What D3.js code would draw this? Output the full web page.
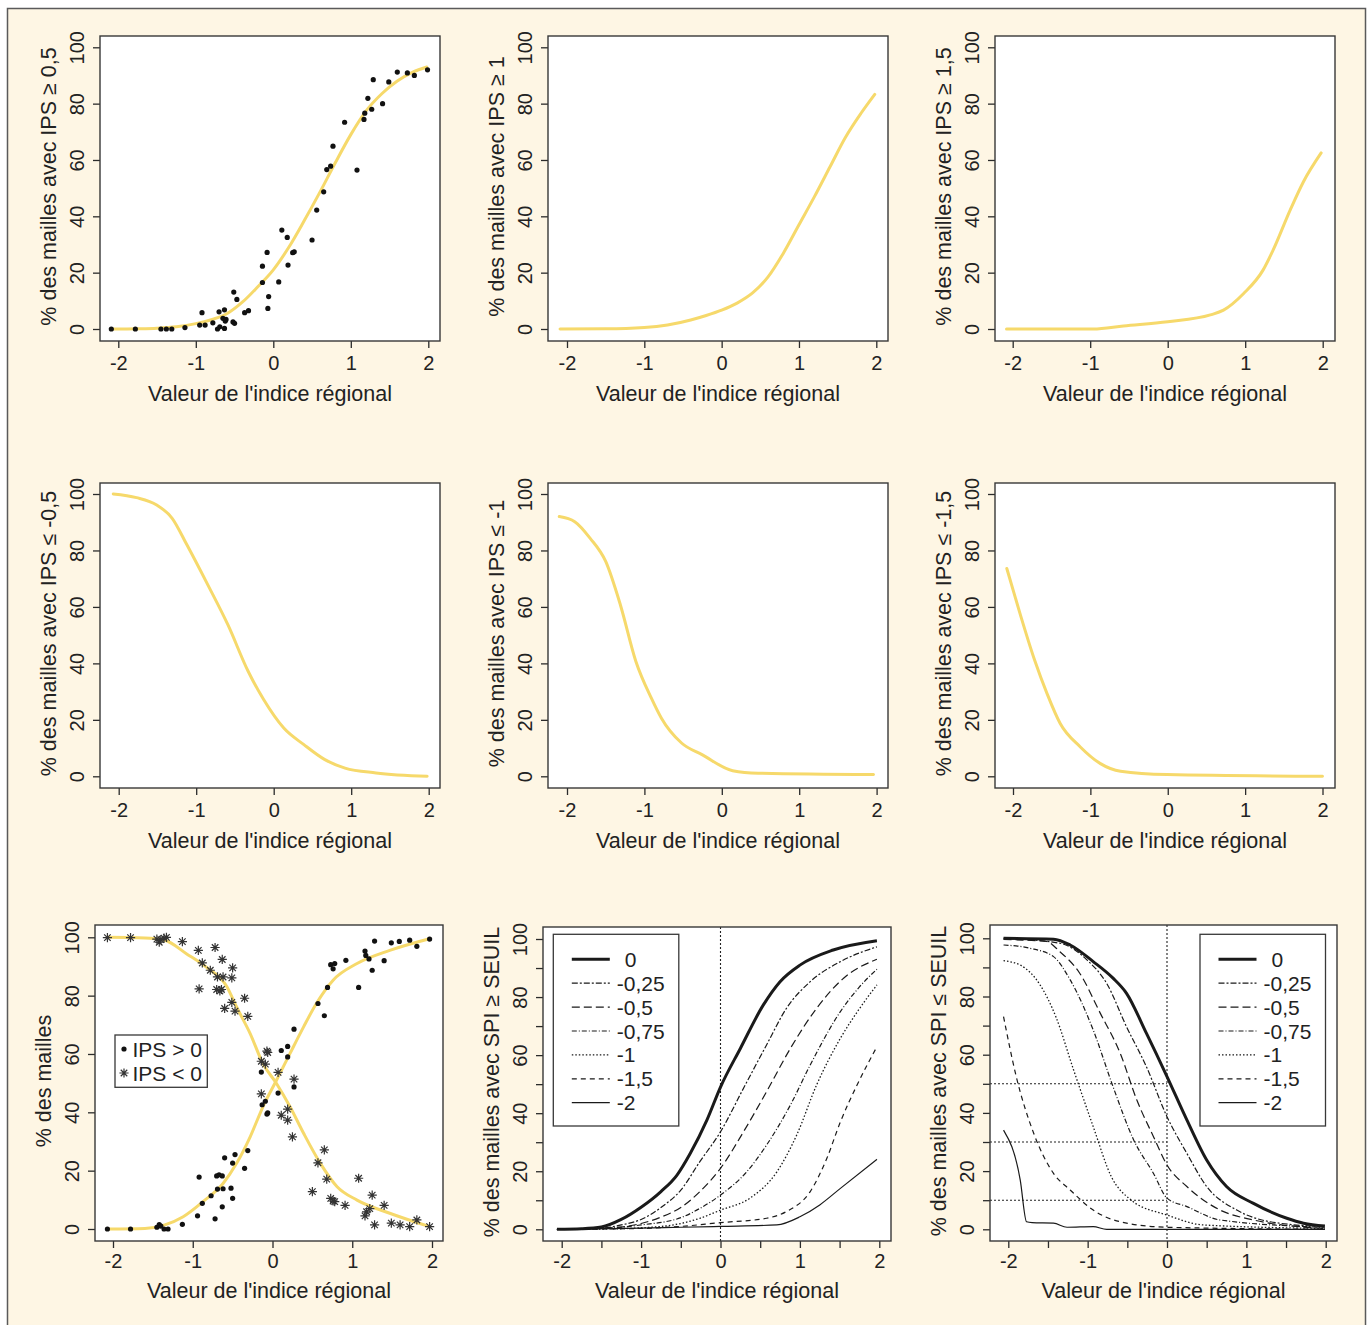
<!DOCTYPE html>
<html>
<head>
<meta charset="utf-8">
<script src="https://cdn.jsdelivr.net/npm/d3@7"></script>
<style>
  html, body { margin: 0; padding: 0; background: #ffffff; }
  svg text { font-family: "Liberation Sans", Arial, Helvetica, sans-serif; fill: #222; }
</style>
</head>
<body>
<svg id="fig" width="1370" height="1325"></svg>
<script>
// ---- data ----
var xTicks = [-2, -1, 0, 1, 2];
var xTicksHalf = [-2, -1.5, -1, -0.5, 0, 0.5, 1, 1.5, 2];
var yTicks = [0, 20, 40, 60, 80, 100];
var yTicksTen = [0, 10, 20, 30, 40, 50, 60, 70, 80, 90, 100];

// panel 1 : IPS >= 0,5 (points + smooth)
var pts05 = [[-2.09,0],[-1.78,0],[-1.45,0],[-1.38,0],[-1.31,0],[-1.14,0.5],[-0.95,1.4],[-0.88,1.4],
  [-0.92,5.8],[-0.78,2.2],[-0.70,6.1],[-0.72,0],[-0.69,0.8],[-0.63,6.8],[-0.63,0.2],[-0.65,3.8],
  [-0.61,3.4],[-0.62,2.8],[-0.52,2.5],[-0.50,2.0],[-0.51,13.1],[-0.47,10.5],[-0.37,5.8],[-0.32,6.5],
  [-0.14,22.3],[-0.14,16.5],[-0.08,27.2],[-0.07,7.3],[-0.06,11.5],[0.07,16.7],[0.11,35.1],[0.18,32.5],
  [0.19,22.7],[0.25,27.1],[0.27,27.4],[0.50,31.6],[0.56,42.2],[0.65,48.7],[0.69,56.6],[0.74,57.8],
  [0.77,64.9],[0.92,73.4],[1.08,56.4],[1.17,74.4],[1.18,76.6],[1.22,81.9],[1.27,78.0],[1.29,88.5],
  [1.41,80.0],[1.49,87.7],[1.60,91.2],[1.73,90.9],[1.82,90.0],[1.99,92.0]];
var fit05 = [[-2.08,0],[-1.75,0.1],[-1.5,0.3],[-1.25,0.8],[-1.0,1.9],[-0.8,3.3],[-0.6,5.4],[-0.4,9.5],
  [-0.2,15],[0,21],[0.2,29],[0.4,38.5],[0.6,48.5],[0.8,59],[1.0,69],[1.2,77.5],[1.4,83.5],[1.6,88],
  [1.8,91.2],[1.98,93]];
// panel 2 : IPS >= 1
var fit10 = [[-2.09,0],[-1.5,0.05],[-1.0,0.5],[-0.7,1.4],[-0.4,3.2],[-0.2,4.8],[0,6.7],[0.2,9.2],
  [0.4,12.8],[0.6,18.5],[0.8,27],[1.0,37],[1.2,47],[1.4,57.5],[1.6,68],[1.8,76.5],[1.98,83.3]];
// panel 3 : IPS >= 1,5
var fit15 = [[-2.08,0],[-0.96,0],[-0.57,1.1],[0,2.6],[0.55,5.0],[0.72,6.7],[0.98,12.6],[1.23,20.9],
  [1.36,28],[1.58,42.2],[1.75,52.2],[1.98,62.5]];
// panel 4 : IPS <= -0,5
var fitm05 = [[-2.07,100],[-1.77,98.7],[-1.51,96.1],[-1.31,91.4],[-1.12,82],[-0.85,67.8],[-0.59,53.6],
  [-0.33,37.2],[-0.13,27.2],[0.13,17.1],[0.39,11.2],[0.66,5.9],[0.92,2.9],[1.32,1.2],[1.98,0]];
// panel 5 : IPS <= -1
var fitm10 = [[-2.1,92.0],[-1.9,90.2],[-1.7,84.3],[-1.5,76.1],[-1.31,60.7],[-1.11,40.7],[-0.91,27.7],
  [-0.78,20.6],[-0.52,11.8],[-0.25,7.6],[0.14,2.0],[0.47,1.1],[1.96,0.6]];
// panel 6 : IPS <= -1,5
var fitm15 = [[-2.08,73.6],[-1.91,57.7],[-1.72,41.1],[-1.56,29.3],[-1.39,18.7],[-1.13,10.4],
  [-0.87,4.5],[-0.61,1.8],[-0.01,0.6],[2.0,0]];

// panel 7 : IPS > 0 (dots) and IPS < 0 (stars)
var ptsPos = [[-2.07,0],[-1.78,0],[-1.45,0.6],[-1.42,1.5],[-1.40,1.0],[-1.36,0],[-1.31,0],[-1.13,1.6],
  [-0.94,4.5],[-0.92,17.8],[-0.88,8.8],[-0.77,11.4],[-0.72,3.5],[-0.70,18.2],[-0.67,18.6],[-0.63,18.2],
  [-0.69,13.7],[-0.62,13.8],[-0.63,7.6],[-0.60,24.4],[-0.52,14.0],[-0.50,10.5],[-0.50,22.6],[-0.47,25.5],
  [-0.35,20.8],[-0.31,26.9],[-0.14,53.8],[-0.13,42.6],[-0.09,43.8],[-0.07,39.4],[-0.06,39.8],[0.07,46.6],
  [0.11,61.2],[0.19,62.6],[0.19,59.0],[0.27,48.7],[0.27,68.5],[0.57,77.3],[0.65,73.1],[0.69,82.8],
  [0.73,90.6],[0.78,91.0],[0.76,89.2],[0.92,92.1],[1.08,82.8],[1.16,95.3],[1.17,93.8],[1.21,92.6],
  [1.25,88.7],[1.28,98.7],[1.40,92.0],[1.49,98.1],[1.59,98.6],[1.72,99.0],[1.81,96.9],[1.97,99.4]];
var ptsNeg = [[-2.07,99.9],[-1.78,99.9],[-1.45,99.4],[-1.42,98.3],[-1.40,99.2],[-1.36,99.7],[-1.33,100],
  [-1.13,98.5],[-0.93,95.5],[-0.88,91.2],[-0.92,82.3],[-0.78,88.7],[-0.72,96.5],[-0.63,92.4],[-0.69,86.4],
  [-0.62,86.4],[-0.51,86.1],[-0.50,89.5],[-0.70,82.1],[-0.66,81.6],[-0.64,82.1],[-0.51,77.7],[-0.60,75.6],
  [-0.47,74.7],[-0.35,79.1],[-0.31,72.9],[-0.07,61.0],[-0.06,60.5],[-0.14,57.5],[-0.09,56.5],[0.07,53.7],
  [-0.14,46.3],[0.27,51.4],[0.19,41.1],[0.11,39.0],[0.19,37.3],[0.25,31.6],[0.65,27.1],[0.57,22.7],
  [0.68,17.1],[1.08,17.4],[0.50,12.8],[0.73,10.5],[0.76,9.6],[0.78,9.4],[0.91,8.1],[1.25,11.6],
  [1.40,8.1],[1.16,4.5],[1.18,5.9],[1.22,7.0],[1.28,1.4],[1.49,2.0],[1.60,1.4],[1.72,0.8],[1.81,3.1],
  [1.97,0.8]];
var fitPos = [[-2.07,0],[-1.6,0.2],[-1.35,1.4],[-1.12,4.2],[-0.87,9.4],[-0.62,15.6],[-0.45,22.5],
  [-0.28,31.6],[-0.12,41.9],[0.05,51],[0.22,60.2],[0.39,69.3],[0.55,77.3],[0.76,85.3],[1.06,91],
  [1.47,95.5],[1.97,99.5]];
var fitNeg = [[-2.07,100],[-1.6,99.8],[-1.35,99],[-1.08,94.4],[-0.83,89.8],[-0.57,83],[-0.45,76.1],
  [-0.28,67],[-0.12,56.7],[0.05,49.9],[0.22,41.9],[0.39,32.8],[0.6,22.5],[0.81,14.5],[1.06,9.9],
  [1.47,5.4],[1.97,0.8]];

// panel 8 : SPI >= SEUIL, one curve per seuil
var seuilLabels = ["0", "-0,25", "-0,5", "-0,75", "-1", "-1,5", "-2"];
var geq0 = [[-2.06,0],[-1.75,0.2],[-1.5,0.8],[-1.25,3.4],[-1.0,7.6],[-0.75,13],[-0.55,18.6],
  [-0.38,26.2],[-0.17,37.7],[0,49],[0.25,62.3],[0.54,77.3],[0.75,85.3],[1.0,91],[1.42,96.2],[1.97,99.4]];
var geq025 = [[-2.06,0],[-1.5,0.4],[-1.25,1.5],[-1.0,3.4],[-0.75,7.5],[-0.5,13.5],[-0.26,23.3],
  [0,33.6],[0.29,48.6],[0.58,63.5],[0.83,76.1],[1.13,85.3],[1.51,92.2],[1.97,97.3]];
var geq05 = [[-2.06,0],[-1.5,0.3],[-1.0,2],[-0.75,4.2],[-0.5,7.5],[-0.26,13],[0,21],[0.29,33.6],
  [0.58,47.4],[0.88,62.3],[1.21,76.1],[1.55,86.5],[1.97,93]];
var geq075 = [[-2.06,0],[-1.5,0.3],[-1.0,1.5],[-0.5,4],[-0.26,7.2],[0,11.8],[0.33,19.8],[0.58,29],
  [0.88,42.8],[1.13,56.6],[1.51,75],[1.75,83.5],[1.97,89.6]];
var geq10 = [[-2.06,0],[-1.5,0.1],[-1.0,0.5],[-0.5,2],[-0.26,3.8],[0,6.6],[0.37,10.7],[0.71,19.8],
  [0.96,32.5],[1.21,49.7],[1.51,65.8],[1.75,76],[1.97,84.2]];
var geq15 = [[-2.06,0],[-1.0,0.3],[-0.5,1.0],[0,2.3],[0.58,3.8],[0.83,6.1],[1.13,13],[1.34,24.5],
  [1.51,37],[1.72,49.7],[1.97,62.9]];
var geq20 = [[-2.06,0],[-1.0,0.4],[-0.5,0.7],[0,1.0],[0.71,1.5],[1.0,4.3],[1.25,8.4],[1.51,14.1],[1.97,24.1]];

// panel 9 : SPI <= SEUIL
var leq0 = [[-2.06,100],[-1.43,99.7],[-1.22,97.7],[-0.93,92],[-0.68,86.3],[-0.51,81.1],[-0.26,67.4],
  [0,52.5],[0.25,37.6],[0.5,23.8],[0.75,14.7],[1.09,8.9],[1.51,3.8],[1.72,2.1],[1.99,1.1]];
var leq025 = [[-2.06,100],[-1.35,98.3],[-1.01,92.6],[-0.76,84.5],[-0.51,69.6],[-0.26,55.9],[0,38.7],
  [0.25,26.1],[0.5,14.7],[0.88,6.6],[1.3,2.6],[1.99,0.9]];
var leq05 = [[-2.06,99.6],[-1.52,98.9],[-1.35,95.4],[-1.1,88],[-0.84,74.2],[-0.59,60.5],[-0.38,44.4],
  [-0.17,31.8],[0,22.1],[0.25,14.7],[0.67,6.6],[1.09,3.2],[1.99,0.3]];
var leq075 = [[-2.06,97.7],[-1.73,96.6],[-1.43,93.7],[-1.22,85.7],[-0.93,68.5],[-0.68,49],[-0.42,30.7],
  [-0.17,19.2],[0,10.7],[0.25,7.8],[0.67,3.2],[1.99,0.7]];
var leq10 = [[-2.06,92.3],[-1.85,90.8],[-1.6,84],[-1.4,73],[-1.18,55],[-0.93,35.3],[-0.7,18],
  [-0.45,10],[0,4.9],[0.46,1.5],[1.99,0.3]];
var leq15 = [[-2.06,73.1],[-1.9,52.5],[-1.68,33],[-1.43,19.2],[-1.22,13.5],[-0.93,6.6],[-0.59,2.6],
  [0,0.7],[1.99,0]];
var leq20 = [[-2.06,34.1],[-1.85,17],[-1.77,2.6],[-1.7,2.3],[-1.43,2.1],[-1.26,0.7],[-0.93,0.9],
  [-0.76,0],[1.99,0]];
var seuilLines = [0, 50, 30, 10];   // vertical at x=0, horizontals at 50, 30, 10 %

// ---- drawing ----
var yellow = "#F6D96B";
var ink = "#2b2b2b";
var dashes = ["none", "6,2,2,2", "8,4", "5,2,1,2", "1.5,2", "5,4", "none"];
var widths = [3, 1.2, 1.2, 1.2, 1.3, 1.2, 1.2];
var titleSize = "21.5px", tickSize = "20px", legendSize = "21px";

var svg = d3.select("#fig");

svg.append("rect")
  .attr("x", 7.5).attr("y", 8.5).attr("width", 1358).attr("height", 1330)
  .attr("fill", "#FEF6E4").attr("stroke", "#5a5a5a").attr("stroke-width", 1.5);

function makePanel(o) {
  var x = d3.scaleLinear().domain([-2, 2]).range(o.xr);
  var y = d3.scaleLinear().domain([0, 100]).range(o.yr);
  var g = svg.append("g");

  g.append("rect")
    .attr("x", o.box[0]).attr("y", o.box[1])
    .attr("width", o.box[2] - o.box[0]).attr("height", o.box[3] - o.box[1])
    .attr("fill", "#fff");

  var yAxis = d3.axisLeft(y)
    .tickValues(o.yt || yTicks)
    .tickSize(7)
    .tickFormat(function(d) { return d % 20 === 0 ? d : ""; });
  var ya = g.append("g").attr("transform", "translate(" + o.box[0] + ",0)").call(yAxis);
  ya.select(".domain").remove();
  ya.selectAll("line").attr("stroke", ink).attr("stroke-width", 1.3);
  ya.selectAll("text")
    .attr("x", null).attr("dy", null)
    .attr("text-anchor", "middle")
    .attr("transform", "translate(-16.5,0) rotate(-90)")
    .style("font-size", tickSize).style("fill", "#222");

  var xAxis = d3.axisBottom(x)
    .tickValues(o.xt || xTicks)
    .tickSize(7)
    .tickFormat(function(d) { return Number.isInteger(d) ? d : ""; });
  var xa = g.append("g").attr("transform", "translate(0," + o.box[3] + ")").call(xAxis);
  xa.select(".domain").remove();
  xa.selectAll("line").attr("stroke", ink).attr("stroke-width", 1.3);
  xa.selectAll("text")
    .attr("y", o.xlabOff).attr("dy", null)
    .style("font-size", tickSize).style("fill", "#222");

  g.append("text")
    .attr("transform", "translate(" + (o.box[0] - 44.5) + "," + ((o.box[1] + o.box[3]) / 2 - 2) + ") rotate(-90)")
    .attr("text-anchor", "middle")
    .style("font-size", titleSize)
    .text(o.ylab);

  g.append("text")
    .attr("x", (o.box[0] + o.box[2]) / 2)
    .attr("y", o.box[3] + o.xtitOff)
    .attr("text-anchor", "middle")
    .style("font-size", titleSize)
    .text("Valeur de l'indice régional");

  o.x = x; o.y = y; o.g = g;
  return o;
}

function drawBox(p) {
  var b = p.box;
  p.g.append("rect")
    .attr("x", b[0]).attr("y", b[1]).attr("width", b[2] - b[0]).attr("height", b[3] - b[1])
    .attr("fill", "none").attr("stroke", "#383838").attr("stroke-width", 1.4);
}

function lineGen(p) {
  return d3.line()
    .x(function(d) { return p.x(d[0]); })
    .y(function(d) { return p.y(d[1]); })
    .curve(d3.curveMonotoneX);
}

function yellowCurve(p, data) {
  p.g.append("path").datum(data)
    .attr("d", lineGen(p))
    .attr("fill", "none").attr("stroke", yellow).attr("stroke-width", 3)
    .attr("stroke-linecap", "round");
}

function dots(p, data) {
  p.g.append("g").selectAll("circle").data(data).enter().append("circle")
    .attr("cx", function(d) { return p.x(d[0]); })
    .attr("cy", function(d) { return p.y(d[1]); })
    .attr("r", 2.6).attr("fill", "#111");
}

var starPath = (function() {
  var s = 4.6, a = 3.25;
  return "M" + (-s) + ",0H" + s + "M0," + (-s) + "V" + s +
    "M" + (-a) + "," + (-a) + "L" + a + "," + a + "M" + (-a) + "," + a + "L" + a + "," + (-a);
})();

function stars(p, data) {
  p.g.append("g").selectAll("path").data(data).enter().append("path")
    .attr("transform", function(d) { return "translate(" + p.x(d[0]) + "," + p.y(d[1]) + ")"; })
    .attr("d", starPath)
    .attr("fill", "none").attr("stroke", "#333").attr("stroke-width", 1.2);
}

function seuilCurves(p, curves) {
  var line = lineGen(p);
  curves.forEach(function(c, i) {
    p.g.append("path").datum(c)
      .attr("d", line)
      .attr("fill", "none").attr("stroke", "#1a1a1a")
      .attr("stroke-width", widths[i])
      .attr("stroke-dasharray", dashes[i]);
  });
}

function seuilLegend(p, lx, ly) {
  var lg = p.g.append("g");
  lg.append("rect").attr("x", lx).attr("y", ly).attr("width", 125.5).attr("height", 191.7)
    .attr("fill", "#fff").attr("stroke", "#383838").attr("stroke-width", 1.3);
  seuilLabels.forEach(function(lab, i) {
    var yy = ly + 25 + i * 23.9;
    lg.append("line")
      .attr("x1", lx + 18.5).attr("x2", lx + 56.5).attr("y1", yy).attr("y2", yy)
      .attr("stroke", "#1a1a1a").attr("stroke-width", widths[i])
      .attr("stroke-dasharray", dashes[i]);
    lg.append("text")
      .attr("x", lx + (i === 0 ? 71.5 : 63.5)).attr("y", yy + 7.5)
      .style("font-size", legendSize)
      .text(lab);
  });
}

function dotted(p, x1, y1, x2, y2) {
  p.g.append("line")
    .attr("x1", p.x(x1)).attr("y1", y1 === null ? p.box[1] : p.y(y1))
    .attr("x2", p.x(x2)).attr("y2", y2 === null ? p.box[3] : p.y(y2))
    .attr("stroke", "#222").attr("stroke-width", 1.1).attr("stroke-dasharray", "2,2");
}

// row 1
var p1 = makePanel({box: [100, 36, 440, 341], xr: [118.3, 428.3], yr: [329, 47.3], xlabOff: 28.5, xtitOff: 60, ylab: "% des mailles avec IPS ≥ 0,5"});
yellowCurve(p1, fit05); dots(p1, pts05); drawBox(p1);
var p2 = makePanel({box: [548, 36, 888, 341], xr: [567, 876.3], yr: [329, 47.3], xlabOff: 28.5, xtitOff: 60, ylab: "% des mailles avec IPS ≥ 1"});
yellowCurve(p2, fit10); drawBox(p2);
var p3 = makePanel({box: [995, 36, 1335, 341], xr: [1012.7, 1322.7], yr: [329, 47.3], xlabOff: 28.5, xtitOff: 60, ylab: "% des mailles avec IPS ≥ 1,5"});
yellowCurve(p3, fit15); drawBox(p3);

// row 2
var p4 = makePanel({box: [100, 483, 440, 788], xr: [118.7, 428.7], yr: [776.3, 494], xlabOff: 28.5, xtitOff: 60, ylab: "% des mailles avec IPS ≤ -0,5"});
yellowCurve(p4, fitm05); drawBox(p4);
var p5 = makePanel({box: [548, 483, 888, 788], xr: [567, 876.6], yr: [776.3, 494], xlabOff: 28.5, xtitOff: 60, ylab: "% des mailles avec IPS ≤ -1"});
yellowCurve(p5, fitm10); drawBox(p5);
var p6 = makePanel({box: [995, 483, 1335, 788], xr: [1013, 1322.5], yr: [776.3, 494], xlabOff: 28.5, xtitOff: 60, ylab: "% des mailles avec IPS ≤ -1,5"});
yellowCurve(p6, fitm15); drawBox(p6);

// row 3 left
var p7 = makePanel({box: [95, 925, 443, 1241], xr: [113, 432], yr: [1229, 937.3], xlabOff: 27, xtitOff: 57, ylab: "% des mailles"});
yellowCurve(p7, fitPos); yellowCurve(p7, fitNeg);
dots(p7, ptsPos); stars(p7, ptsNeg);
(function() {
  var lg = p7.g.append("g");
  lg.append("rect").attr("x", 115).attr("y", 1035).attr("width", 92.3).attr("height", 52.3)
    .attr("fill", "#fff").attr("stroke", "#383838").attr("stroke-width", 1.3);
  lg.append("circle").attr("cx", 124).attr("cy", 1049).attr("r", 2.6).attr("fill", "#111");
  lg.append("path").attr("transform", "translate(124,1073)").attr("d", starPath)
    .attr("fill", "none").attr("stroke", "#333").attr("stroke-width", 1.2);
  lg.append("text").attr("x", 132.5).attr("y", 1056.5).style("font-size", legendSize).text("IPS > 0");
  lg.append("text").attr("x", 132.5).attr("y", 1080.5).style("font-size", legendSize).text("IPS < 0");
})();
drawBox(p7);

// row 3 middle
var p8 = makePanel({box: [543, 927, 891, 1241], xr: [561.7, 879.3], yr: [1229.3, 939], xt: xTicksHalf, yt: yTicksTen, xlabOff: 27, xtitOff: 57, ylab: "% des mailles avec SPI ≥ SEUIL"});
dotted(p8, seuilLines[0], null, seuilLines[0], null);
seuilCurves(p8, [geq0, geq025, geq05, geq075, geq10, geq15, geq20]);
seuilLegend(p8, 553.3, 934.3);
drawBox(p8);

// row 3 right
var p9 = makePanel({box: [990, 925, 1337, 1241], xr: [1008.3, 1325.7], yr: [1229.3, 938.3], xt: xTicksHalf, yt: yTicksTen, xlabOff: 27, xtitOff: 57, ylab: "% des mailles avec SPI ≤ SEUIL"});
dotted(p9, seuilLines[0], null, seuilLines[0], null);
seuilLines.slice(1).forEach(function(v) {
  p9.g.append("line")
    .attr("x1", p9.box[0]).attr("x2", p9.x(0)).attr("y1", p9.y(v)).attr("y2", p9.y(v))
    .attr("stroke", "#222").attr("stroke-width", 1.1).attr("stroke-dasharray", "2,2");
});
seuilCurves(p9, [leq0, leq025, leq05, leq075, leq10, leq15, leq20]);
seuilLegend(p9, 1200, 934.3);
drawBox(p9);
</script>
</body>
</html>
